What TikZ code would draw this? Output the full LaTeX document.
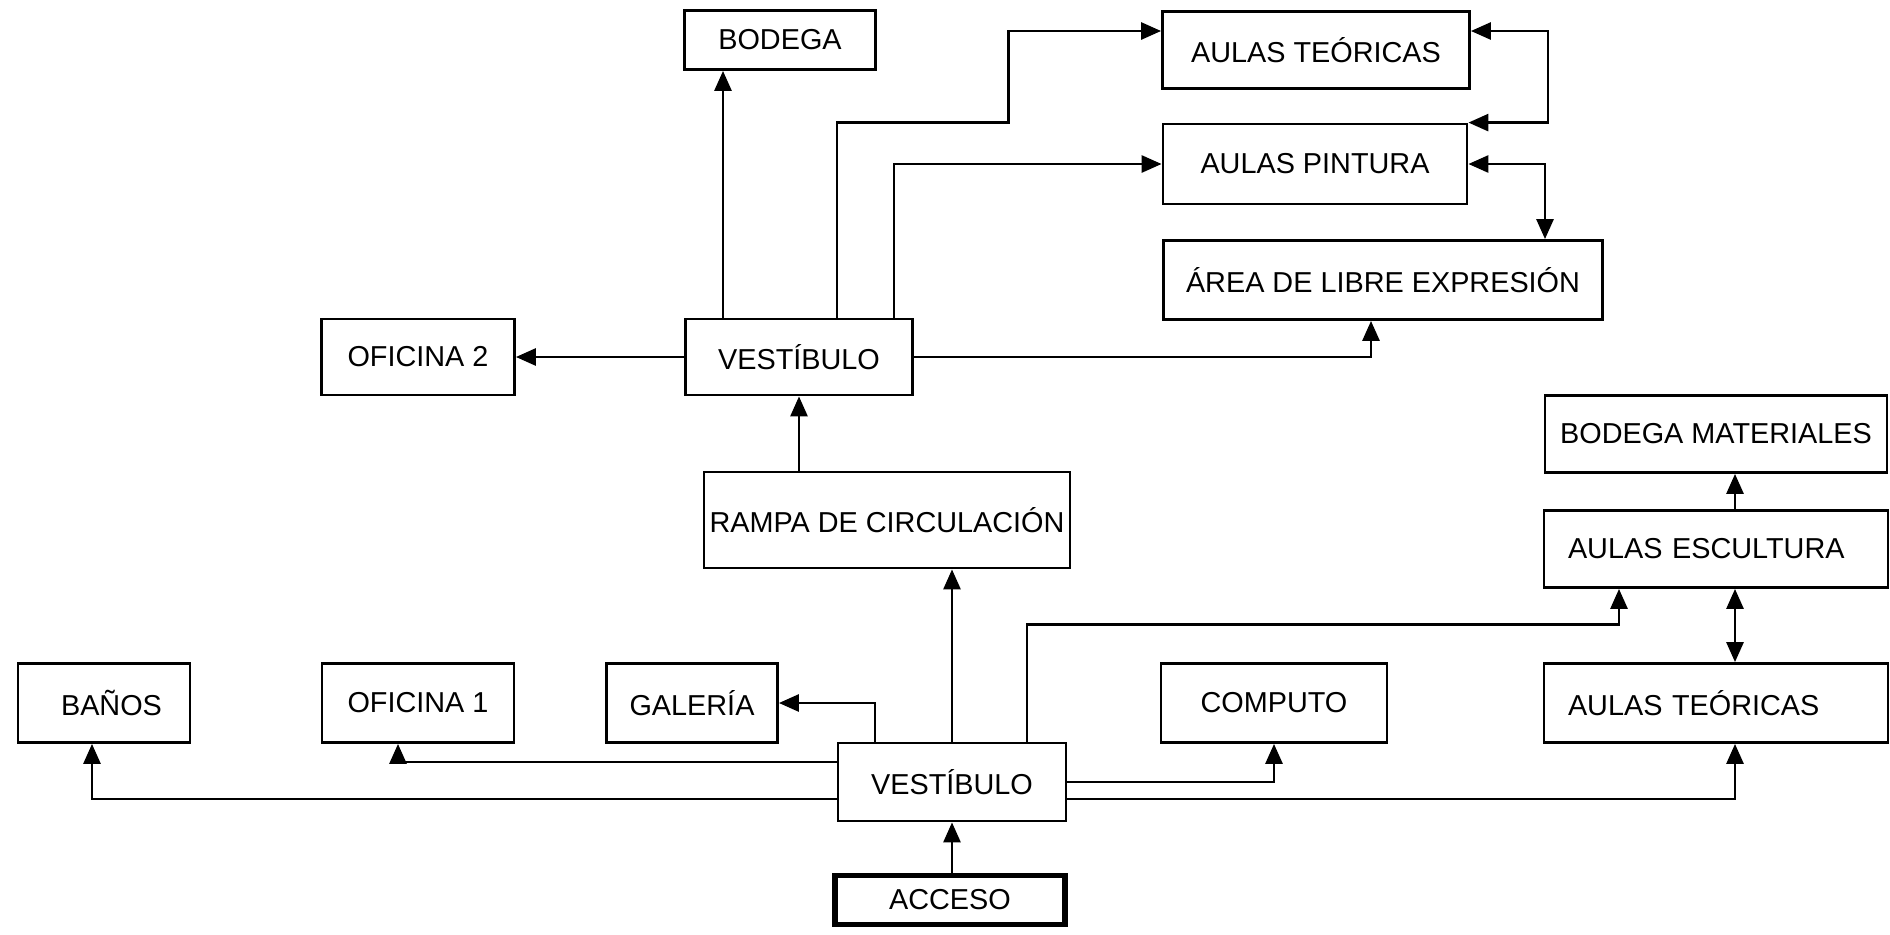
\documentclass[tikz,border=0pt]{standalone}
\usepackage{fontspec}
\setmainfont{Liberation Sans}
\usepackage{tikz}
\usetikzlibrary{shapes,arrows.meta,positioning,calc}
\tikzstyle{room} = [rectangle, draw, line width=0.8pt, inner sep=0pt, minimum height=0.77cm, font=\fontsize{8.2}{10}\selectfont]
\tikzstyle{entry} = [room, line width=1.7pt]
\tikzstyle{link} = [draw, line width=0.8pt, -{Triangle[length=0.2cm,width=0.17cm]}]
\tikzstyle{both} = [draw, line width=0.8pt, {Triangle[length=0.2cm,width=0.17cm]}-{Triangle[length=0.2cm,width=0.17cm]}]

\begin{document}
\begin{tikzpicture}[scale=1.0]
    \useasboundingbox (0,0) rectangle (18.9,-9.35);

    \node[room, minimum width=1.91cm, minimum height=0.59cm] (bodega) at (7.80,-0.40) {BODEGA};
    \node[room, minimum width=3.07cm] (teoA) at (13.16,-0.50) {AULAS TEÓRICAS};
    \node[room, minimum width=3.04cm, minimum height=0.80cm] (pintura) at (13.15,-1.64) {AULAS PINTURA};
    \node[room, minimum width=4.39cm, minimum height=0.79cm] (area) at (13.83,-2.80) {ÁREA DE LIBRE EXPRESIÓN};
    \node[room, minimum width=1.93cm, minimum height=0.76cm] (ofi2) at (4.18,-3.57) {OFICINA 2};
    \node[room, minimum width=2.27cm, minimum height=0.76cm] (vestB) at (7.99,-3.57) {VESTÍBULO};
    \node[room, minimum width=3.66cm, minimum height=0.96cm] (rampa) at (8.87,-5.20) {RAMPA DE CIRCULACIÓN};

    \node[room, minimum width=3.42cm] (bodmat) at (17.16,-4.34) {BODEGA MATERIALES};
    \node[room, minimum width=3.44cm, text width=2.96cm] (escultura) at (17.16,-5.49) {AULAS ESCULTURA};
    \node[room, minimum width=3.44cm, text width=2.96cm, minimum height=0.79cm] (teoB) at (17.16,-7.03) {AULAS TEÓRICAS};

    \node[room, minimum width=1.72cm, minimum height=0.79cm] (banos) at (1.04,-7.03) {\hspace{0.15cm}BAÑOS};
    \node[room, minimum width=1.92cm, minimum height=0.79cm] (ofi1) at (4.18,-7.03) {OFICINA 1};
    \node[room, minimum width=1.71cm, minimum height=0.79cm] (galeria) at (6.92,-7.03) {GALERÍA};
    \node[room, minimum width=2.26cm, minimum height=0.79cm] (computo) at (12.74,-7.03) {COMPUTO};
    \node[room, minimum width=2.28cm, minimum height=0.78cm] (vestA) at (9.52,-7.82) {VESTÍBULO};
    \node[entry, minimum width=2.30cm, minimum height=0.49cm] (acceso) at (9.50,-9.00) {ACCESO};

    \draw[link] ([xshift=-0.76cm]vestB.north) -- ([xshift=-0.76cm]vestB.north |- bodega.south);
    \draw[link] ([xshift=0.38cm]vestB.north) -- ++(0,1.95) -| ([xshift=-1.525cm,yshift=0.19cm]teoA.west) -- ([yshift=0.19cm]teoA.west);
    \draw[link] ([xshift=0.95cm]vestB.north) |- (pintura.west);
    \draw[link] (vestB.east) -| ([xshift=-0.12cm]area.south);
    \draw[link] (vestB.west) -- (ofi2.east);
    \draw[link] (vestB.south |- rampa.north) -- (vestB.south);
    \draw[both] ([yshift=0.19cm]teoA.east) -- ++(0.77,0) |- (pintura.north east);
    \draw[both] (pintura.east) -| ([xshift=1.62cm]area.north);

    \draw[link] (vestA.south |- acceso.north) -- (vestA.south);
    \draw[link] (vestA.north) -- (vestA.north |- rampa.south);
    \draw[link] ([xshift=-0.77cm]vestA.north) |- (galeria.east);
    \draw[link] ([yshift=0.20cm]vestA.west) -| ([xshift=-0.20cm]ofi1.south);
    \draw[link] ([yshift=-0.17cm]vestA.west) -| ([xshift=-0.12cm]banos.south);
    \draw[link] (vestA.east) -| (computo.south);
    \draw[link] ([yshift=-0.17cm]vestA.east) -| ([xshift=0.19cm]teoB.south);
    \draw[link] ([xshift=0.75cm]vestA.north) -- ++(0,1.17) -| ([xshift=-0.97cm]escultura.south);
    \draw[both] ([xshift=0.19cm]escultura.south) -- ([xshift=0.19cm]teoB.north);
    \draw[link] ([xshift=0.19cm]escultura.north) -- ([xshift=0.19cm]bodmat.south);
\end{tikzpicture}
\end{document}
